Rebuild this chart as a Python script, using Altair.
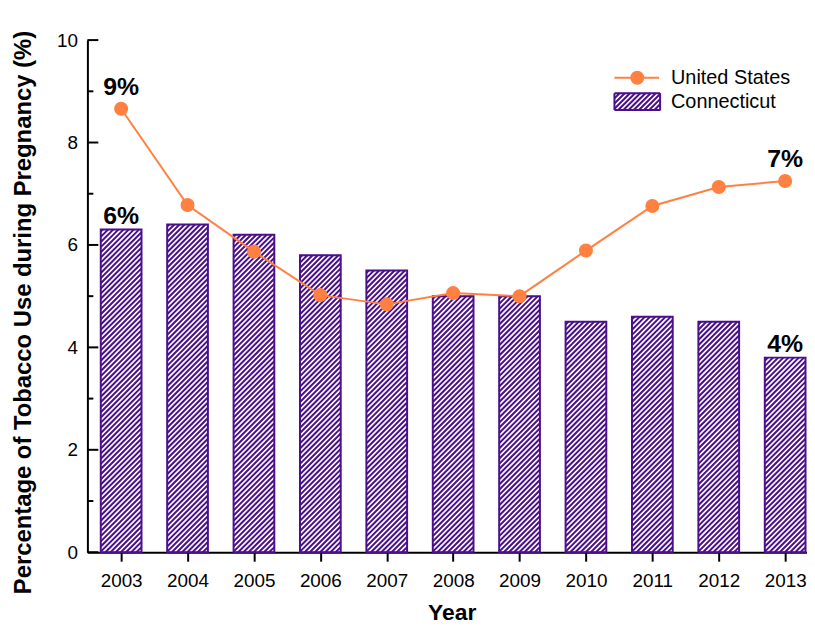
import altair as alt
import pandas as pd

# ---------------- data ----------------
years = [2003, 2004, 2005, 2006, 2007, 2008, 2009, 2010, 2011, 2012, 2013]
us_values = [8.66, 6.78, 5.87, 5.02, 4.84, 5.06, 5.00, 5.89, 6.76, 7.13, 7.25]
ct_values = [6.3, 6.4, 6.2, 5.8, 5.5, 5.0, 5.0, 4.5, 4.6, 4.5, 3.8]
y_major_ticks = [0, 2, 4, 6, 8, 10]
y_minor_ticks = [1, 3, 5, 7, 9]
series_names = ["United States", "Connecticut"]
label_years = [2003, 2013]

# ---------------- layout / style ----------------
W, H = 725, 516
X_DOMAIN = [2002.492, 2013.329]
Y_DOMAIN = [0, 10]
PX_YEAR = W / (X_DOMAIN[1] - X_DOMAIN[0])
PX_PCT = H / (Y_DOMAIN[1] - Y_DOMAIN[0])
BAR_HALF = 0.3065
BAR_PX = 2 * BAR_HALF * PX_YEAR
HATCH_STEP = 5.2
HATCH_W = 2.0
PURPLE = "#4B0F8C"
ORANGE = "#FF8040"
FONT = "Liberation Sans"

df = pd.DataFrame({"year": years, "us": us_values, "ct": ct_values})

x_scale = alt.Scale(domain=X_DOMAIN, nice=False, zero=False)
y_scale = alt.Scale(domain=Y_DOMAIN, nice=False)

x_axis = alt.Axis(
    values=years, format="d", title="Year", grid=False,
    tickSize=9, tickWidth=2, tickColor="black",
    domainWidth=2, domainColor="black",
    labelFontSize=19, labelColor="black", labelPadding=11, labelFont=FONT,
    titleFontSize=23, titleFontWeight="bold", titleFont=FONT, titleColor="black",
    titleX=367, titleY=68, titleBaseline="alphabetic", titleAlign="center",
)
y_axis = alt.Axis(
    values=y_major_ticks, title="Percentage of Tobacco Use during Pregnancy (%)",
    grid=False, ticks=False, tickSize=0,
    domainWidth=2, domainColor="black",
    labelFontSize=19, labelColor="black", labelPadding=10, labelFont=FONT,
    titleFontSize=24, titleFontWeight="bold", titleFont=FONT, titleColor="black",
    titleX=-64, titleY=274, titleAngle=270, titleAlign="center", titleBaseline="middle",
)


def X(field):
    return alt.X(field, type="quantitative", scale=x_scale, axis=x_axis)


def Y(field):
    return alt.Y(field, type="quantitative", scale=y_scale, axis=y_axis)


base = alt.Chart(df)

# hatch lines inside the Connecticut bars (45 degree, computed from bar values)
hatch = (
    base.transform_calculate(hp=f"datum.ct * {PX_PCT}")
    .transform_calculate(k="sequence(0, 100)")
    .transform_flatten(["k"])
    .transform_calculate(b=f"datum.k * {HATCH_STEP} - {BAR_PX}")
    .transform_calculate(u0="max(0, -datum.b)")
    .transform_calculate(u1=f"min({BAR_PX}, datum.hp - datum.b)")
    .transform_filter("datum.u1 > datum.u0")
    .transform_calculate(hx1=f"datum.year - {BAR_HALF} + datum.u0 / {PX_YEAR}")
    .transform_calculate(hx2=f"datum.year - {BAR_HALF} + datum.u1 / {PX_YEAR}")
    .transform_calculate(hy1=f"(datum.u0 + datum.b) / {PX_PCT}")
    .transform_calculate(hy2=f"(datum.u1 + datum.b) / {PX_PCT}")
    .mark_rule(color=PURPLE, strokeWidth=HATCH_W)
    .encode(x=X("hx1"), x2="hx2", y=Y("hy1"), y2="hy2")
)

bars = (
    base.transform_calculate(bx1=f"datum.year - {BAR_HALF}")
    .transform_calculate(bx2=f"datum.year + {BAR_HALF}")
    .transform_calculate(z="0")
    .mark_rect(fill="white", fillOpacity=0, stroke=PURPLE, strokeWidth=2)
    .encode(x=X("bx1"), x2="bx2", y=Y("ct"), y2="z")
)

line = base.mark_line(color=ORANGE, strokeWidth=2).encode(x=X("year"), y=Y("us"))
points = base.mark_point(filled=True, size=200, color=ORANGE, opacity=1).encode(
    x=X("year"), y=Y("us")
)

us_labels = (
    base.transform_filter(alt.FieldOneOfPredicate(field="year", oneOf=label_years))
    .transform_calculate(txt="format(datum.us, '.0f') + '%'")
    .mark_text(fontSize=25, fontWeight="bold", font=FONT, color="black",
               baseline="alphabetic", dy=-14)
    .encode(x=X("year"), y=Y("us"), text="txt:N")
)
ct_labels = (
    base.transform_filter(alt.FieldOneOfPredicate(field="year", oneOf=label_years))
    .transform_calculate(txt="format(datum.ct, '.0f') + '%'")
    .mark_text(fontSize=25, fontWeight="bold", font=FONT, color="black",
               baseline="alphabetic", dy=-6)
    .encode(x=X("year"), y=Y("ct"), text="txt:N")
)

# inward y ticks
major_df = pd.DataFrame({"t": y_major_ticks})
minor_df = pd.DataFrame({"t": y_minor_ticks})
major_ticks = alt.Chart(major_df).mark_rule(color="black", strokeWidth=2).encode(
    y=Y("t"), x=alt.value(0), x2=alt.value(11)
)
minor_ticks = alt.Chart(minor_df).mark_rule(color="black", strokeWidth=2).encode(
    y=Y("t"), x=alt.value(0), x2=alt.value(6)
)

# ---------------- legend ----------------
legend_df = pd.DataFrame({"name": series_names})
LX0, LX1, LXC, LTX = 531, 576, 554, 588
LY_US, LY_CT = 38, 62

# hatched patch as a custom symbol path in the [-1,1] box
ph = 8.5 / 23.0
step_u = HATCH_STEP / 23.0
outline_path = (f"M-1,{-ph}L1,{-ph}M1,{-ph}L1,{ph}M1,{ph}L-1,{ph}M-1,{ph}L-1,{-ph}")
hatch_parts = []
c = -1 - ph + step_u
while c < 1 + ph:
    xa = max(-1.0, c - ph)
    xb = min(1.0, c + ph)
    if xb > xa:
        hatch_parts.append(f"M{xa:.3f},{c - xa:.3f}L{xb:.3f},{c - xb:.3f}")
    c += step_u
hatch_path = "".join(hatch_parts)

leg_us = alt.Chart(legend_df).transform_filter(alt.datum.name == series_names[0])
leg_ct = alt.Chart(legend_df).transform_filter(alt.datum.name == series_names[1])

leg_line = leg_us.mark_rule(color=ORANGE, strokeWidth=2).encode(
    x=alt.value(LX0), x2=alt.value(LX1), y=alt.value(LY_US)
)
leg_dot = leg_us.mark_point(filled=True, size=200, color=ORANGE, opacity=1).encode(
    x=alt.value(LXC), y=alt.value(LY_US)
)
leg_patch_h = leg_ct.mark_point(shape=hatch_path, size=46 * 46, filled=False,
                                color=PURPLE, strokeWidth=HATCH_W, opacity=1).encode(
    x=alt.value(LXC), y=alt.value(LY_CT)
)
leg_patch_o = leg_ct.mark_point(shape=outline_path, size=46 * 46, filled=False,
                                color=PURPLE, strokeWidth=2, opacity=1).encode(
    x=alt.value(LXC), y=alt.value(LY_CT)
)
leg_text_us = leg_us.mark_text(fontSize=20, font=FONT, color="black", align="left",
                               baseline="middle").encode(
    x=alt.value(LTX), y=alt.value(LY_US), text="name:N"
)
leg_text_ct = leg_ct.mark_text(fontSize=20, font=FONT, color="black", align="left",
                               baseline="middle").encode(
    x=alt.value(LTX), y=alt.value(LY_CT), text="name:N"
)

chart = (
    alt.layer(
        hatch, bars, line, points, us_labels, ct_labels, major_ticks, minor_ticks,
        leg_line, leg_dot, leg_patch_h, leg_patch_o, leg_text_us, leg_text_ct,
    )
    .properties(
        width=W, height=H,
        autosize=alt.AutoSizeParams(type="none"),
        padding={"left": 80, "top": 30, "right": 0, "bottom": 74},
    )
    .configure(font=FONT)
    .configure_view(strokeWidth=0)
)

chart.save("out.html", embed_options={"renderer": "svg", "actions": False})
